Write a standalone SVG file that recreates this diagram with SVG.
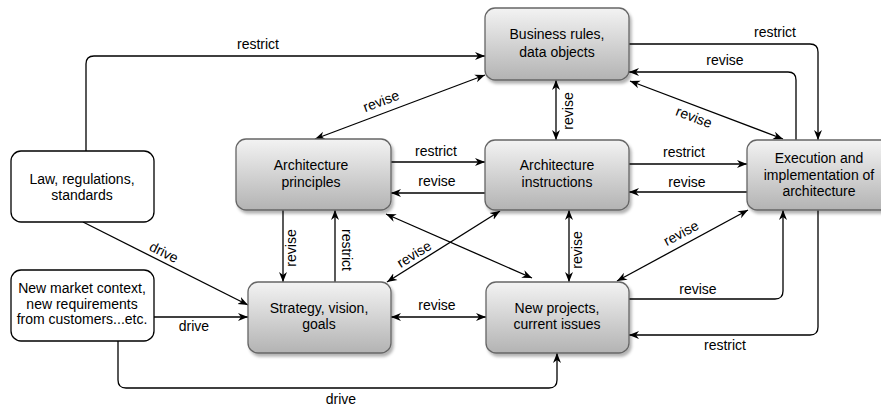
<svg xmlns="http://www.w3.org/2000/svg" width="881" height="406" viewBox="0 0 881 406">
<style>
text{font-family:"Liberation Sans",Arial,Helvetica,sans-serif;font-size:14px;fill:#000;text-anchor:middle}
.g{fill:url(#grad);stroke:#666;stroke-width:1.3;filter:url(#sh)}
.w{fill:#fff;stroke:#000;stroke-width:1.3}
.c{fill:none;stroke:#000;stroke-width:1.3}
.e{marker-end:url(#ah)}
.b{marker-start:url(#ah);marker-end:url(#ah)}
</style>
<defs>
<linearGradient id="grad" x1="0" y1="0" x2="0" y2="1">
<stop offset="0" stop-color="#f3f3f3"/>
<stop offset="1" stop-color="#b3b3b3"/>
</linearGradient>
<filter id="sh" x="-10%" y="-10%" width="130%" height="130%">
<feDropShadow dx="2" dy="3" stdDeviation="1.5" flood-color="#000" flood-opacity="0.3"/>
</filter>
<marker id="ah" viewBox="0 0 10 10" refX="10" refY="5" markerWidth="10" markerHeight="10" markerUnits="userSpaceOnUse" orient="auto-start-reverse">
<path d="M0,1 L10,5 L0,9 L3,5 Z" fill="#000"/>
</marker>
</defs>

<g id="connectors">
<path class="c e" d="M86,151 L86,64 Q86,56 94,56 L485,56"/>
<path class="c b" d="M315,139 L485,75"/>
<path class="c b" d="M556,80 L556,140"/>
<path class="c e" d="M629,44 L810,44 Q818,44 818,52 L818,140"/>
<path class="c e" d="M796,140 L796,80 Q796,72 788,72 L629,72"/>
<path class="c b" d="M630,81 L783,139"/>
<path class="c e" d="M391,162 L485,162"/>
<path class="c e" d="M485,193 L391,193"/>
<path class="c e" d="M629,164 L747,164"/>
<path class="c e" d="M747,192 L629,192"/>
<path class="c e" d="M283,210 L283,282"/>
<path class="c e" d="M335,282 L335,210"/>
<path class="c b" d="M387,282 L500,211"/>
<path class="c b" d="M386,214 L532,278"/>
<path class="c b" d="M569,210 L569,282"/>
<path class="c b" d="M617,281 L748,210"/>
<path class="c e" d="M629,299 L775,299 Q783,299 783,291 L783,210"/>
<path class="c e" d="M818,210 L818,327 Q818,335 810,335 L629,335"/>
<path class="c e" d="M83,222 L248,305"/>
<path class="c e" d="M154,317 L248,317"/>
<path class="c e" d="M118,341 L118,380 Q118,388 126,388 L549,388 Q557,388 557,380 L557,353"/>
<path class="c b" d="M391,317 L486,317"/>

<text x="258" y="49">restrict</text>
<text transform="translate(381,101) rotate(-20.6)" y="5">revise</text>
<text transform="translate(568,111) rotate(-90)" y="5">revise</text>
<text x="775" y="37">restrict</text>
<text x="725" y="65">revise</text>
<text transform="translate(694,117) rotate(20.8)" y="5">revise</text>
<text x="436" y="156">restrict</text>
<text x="437" y="186">revise</text>
<text x="684" y="157">restrict</text>
<text x="687" y="187">revise</text>
<text transform="translate(291,248) rotate(-90)" y="5">revise</text>
<text transform="translate(347,250) rotate(90)" y="5">restrict</text>
<text transform="translate(414,254) rotate(-32)" y="5">revise</text>
<text transform="translate(577,250) rotate(-90)" y="5">revise</text>
<text transform="translate(681,233) rotate(-28)" y="5">revise</text>
<text x="698" y="294">revise</text>
<text x="725" y="350">restrict</text>
<text transform="translate(164,252) rotate(26.7)" y="5">drive</text>
<text x="194" y="331">drive</text>
<text x="341" y="404">drive</text>
<text x="437" y="310">revise</text>
</g>

<g id="business">
<rect class="g" x="485" y="8" width="144" height="72" rx="10"/>
<text x="557" y="39">Business rules,</text>
<text x="557" y="57">data objects</text>
</g>
<g id="principles">
<rect class="g" x="236" y="139" width="155" height="71" rx="10"/>
<text x="311" y="170">Architecture</text>
<text x="311" y="187">principles</text>
</g>
<g id="instructions">
<rect class="g" x="485" y="140" width="144" height="70" rx="10"/>
<text x="557" y="170">Architecture</text>
<text x="557" y="187">instructions</text>
</g>
<g id="execution">
<rect class="g" x="747" y="140" width="144" height="70" rx="10"/>
<text x="819" y="163">Execution and</text>
<text x="819" y="179.5">implementation of</text>
<text x="819" y="196">architecture</text>
</g>
<g id="law">
<rect class="w" x="11" y="151" width="143" height="71" rx="10"/>
<text x="82" y="184">Law, regulations,</text>
<text x="82" y="200">standards</text>
</g>
<g id="strategy">
<rect class="g" x="248" y="282" width="143" height="71" rx="10"/>
<text x="319" y="313">Strategy, vision,</text>
<text x="319" y="329">goals</text>
</g>
<g id="projects">
<rect class="g" x="486" y="282" width="143" height="71" rx="10"/>
<text x="557" y="313">New projects,</text>
<text x="557" y="329">current issues</text>
</g>
<g id="market">
<rect class="w" x="11" y="270" width="143" height="71" rx="10"/>
<text x="82" y="293">New market context,</text>
<text x="82" y="308.5">new requirements</text>
<text x="82" y="324">from customers...etc.</text>
</g>
</svg>
